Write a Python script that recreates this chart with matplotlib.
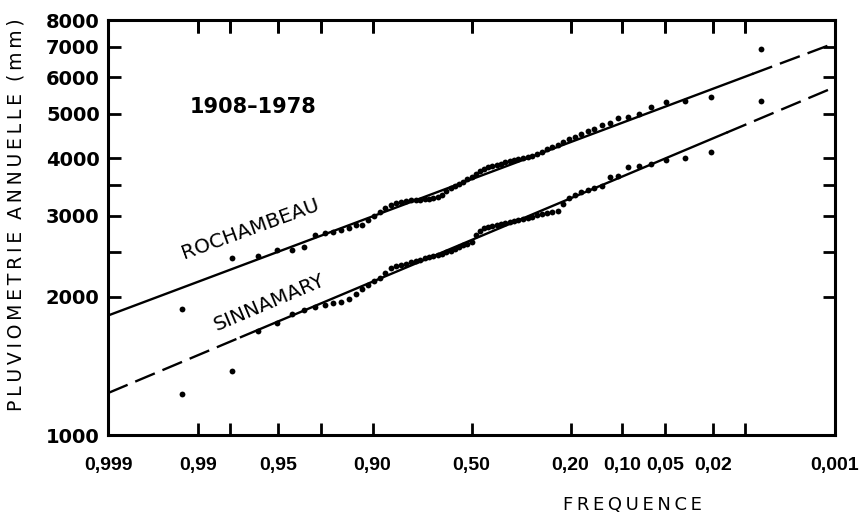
import numpy as np
import matplotlib
matplotlib.use("Agg")
from matplotlib import pyplot as plt
from matplotlib.markers import TICKDOWN
from statistics import NormalDist

"""
Pluviometrie annuelle 1908-1978, Rochambeau et Sinnamary,
report sur papier gausso-logarithmique
"""

# frequence de depassement des 71 annees classees
freq = [0.993, 0.979, 0.965, 0.951, 0.937, 0.923, 0.908, 0.894, 0.880, 0.866,
        0.852, 0.838, 0.824, 0.810, 0.796, 0.782, 0.768, 0.754, 0.739, 0.725,
        0.711, 0.697, 0.683, 0.669, 0.655, 0.641, 0.627, 0.613, 0.599, 0.585,
        0.570, 0.556, 0.542, 0.528, 0.514, 0.500, 0.486, 0.472, 0.458, 0.444,
        0.430, 0.415, 0.401, 0.387, 0.373, 0.359, 0.345, 0.331, 0.317, 0.303,
        0.289, 0.275, 0.261, 0.246, 0.232, 0.218, 0.204, 0.190, 0.176, 0.162,
        0.148, 0.134, 0.120, 0.106, 0.092, 0.077, 0.063, 0.049, 0.035, 0.021,
        0.007]

# pluies annuelles classees (mm)
rochambeau = [1880, 2430, 2450, 2530, 2530, 2560, 2720, 2750, 2770, 2790,
              2820, 2860, 2860, 2940, 3000, 3060, 3120, 3170, 3200, 3210,
              3230, 3250, 3250, 3250, 3260, 3260, 3280, 3300, 3330, 3400,
              3450, 3480, 3520, 3550, 3610, 3640, 3700, 3750, 3790, 3830,
              3850, 3870, 3890, 3930, 3950, 3970, 3990, 4010, 4030, 4050,
              4090, 4130, 4190, 4230, 4280, 4340, 4410, 4450, 4520, 4590,
              4630, 4730, 4780, 4900, 4920, 5000, 5170, 5300, 5330, 5440,
              6920]

sinnamary = [1230, 1380, 1680, 1750, 1830, 1870, 1900, 1920, 1940, 1950,
             1980, 2030, 2080, 2120, 2160, 2200, 2250, 2310, 2330, 2340,
             2360, 2380, 2390, 2400, 2430, 2440, 2450, 2460, 2480, 2500,
             2510, 2540, 2560, 2590, 2600, 2630, 2720, 2780, 2820, 2840,
             2850, 2860, 2880, 2890, 2910, 2920, 2940, 2950, 2970, 2980,
             3010, 3030, 3040, 3060, 3070, 3180, 3280, 3330, 3380, 3410,
             3450, 3480, 3640, 3660, 3830, 3850, 3890, 3970, 4010, 4130,
             5330]

# droites d'ajustement : valeurs aux frequences extremes
line_freq = [0.999, 0.001]
roch_line = [1820, 7130]
sinn_line = [1234, 5720]
# partie en trait plein de chaque droite (le reste en tirets)
roch_solid = [0.999, 0.0085]
sinn_solid = [0.975, 0.015]

tick_freq = [0.99, 0.98, 0.95, 0.90, 0.80, 0.50, 0.20, 0.10, 0.05, 0.02, 0.01]
label_freq = [0.999, 0.99, 0.95, 0.80, 0.50, 0.20, 0.10, 0.05, 0.02, 0.001]
label_text = ['0,999', '0,99', '0,95', '0,90', '0,50', '0,20', '0,10',
              '0,05', '0,02', '0,001']
y_major = [1000, 2000, 3000, 4000, 5000, 6000, 7000, 8000]
y_minor = [2500, 3500]

THIN = '\u2009'


def spaced(text):
    """lettres espacees comme sur l'original"""
    return '  '.join(THIN.join(w) for w in text.split(' '))


def gauss(f):
    """variable reduite de Gauss pour une frequence de depassement"""
    nd = NormalDist()
    return np.array([nd.inv_cdf(1 - v) for v in np.atleast_1d(f)])


def draw_line(ax, values, solid):
    """droite d'ajustement, trait plein entre les bornes, tirets ailleurs"""
    zl = gauss(line_freq)
    lv = np.log10(values)
    z0, z1 = gauss(solid)
    pieces = [(zl[0], z0, '--'), (z0, z1, '-'), (z1, zl[1], '--')]
    for a, b, ls in pieces:
        if b - a < 1e-6:
            continue
        zz = np.array([a, b])
        yy = 10 ** np.interp(zz, zl, lv)
        if ls == '--':
            ax.plot(zz, yy, color='black', lw=1.7, dashes=(9, 3.5),
                    solid_capstyle='butt')
        else:
            ax.plot(zz, yy, color='black', lw=1.7)


def main():
    fig = plt.figure(figsize=(8.67, 5.15), dpi=100)
    ax = fig.add_axes([0.1246, 0.1553, 0.8385, 0.8058])

    ax.plot(gauss(freq), rochambeau, 'o', color='black', ms=4.2, mew=0)
    ax.plot(gauss(freq), sinnamary, 'o', color='black', ms=4.2, mew=0)
    draw_line(ax, roch_line, roch_solid)
    draw_line(ax, sinn_line, sinn_solid)

    xl = gauss(line_freq)
    ax.set_xlim(xl[0], xl[1])
    ax.set_yscale('log')
    ax.set_ylim(1000, 8000)

    ax.xaxis.remove_overlapping_locs = False
    ax.set_xticks(gauss(label_freq))
    ax.set_xticklabels(label_text, fontfamily='Liberation Sans',
                       fontweight='bold', fontsize=14)
    ax.set_xticks(gauss(tick_freq), minor=True)
    ax.set_yticks(y_major)
    ax.set_yticklabels([str(v) for v in y_major], fontweight='bold',
                       fontsize=14)
    ax.set_yticks(y_minor, minor=True)
    ax.yaxis.set_minor_formatter(plt.NullFormatter())

    ax.tick_params(axis='x', which='major', length=0, pad=16)
    ax.tick_params(axis='x', which='minor', direction='in', length=9,
                   width=2, top=True, bottom=True)
    ax.tick_params(axis='y', which='both', direction='in', length=9,
                   width=2, left=True, right=True, pad=6)
    for sp in ax.spines.values():
        sp.set_linewidth(2.2)

    # graduations du bord superieur (repere sur la limite haute de l'axe)
    ax.plot(gauss(tick_freq), [y_major[-1]] * len(tick_freq), ls='none',
            marker=TICKDOWN, ms=9, mew=2, color='black', clip_on=False,
            zorder=6)

    ax.text(0.199, 0.79, '1908–1978', transform=ax.transAxes,
            ha='center', va='center', fontsize=15, fontweight='bold')
    ax.text(0.196, 0.497, 'ROCHAMBEAU', transform=ax.transAxes,
            ha='center', va='center', fontsize=14.5, rotation=20)
    ax.text(0.222, 0.32, 'SINNAMARY', transform=ax.transAxes,
            ha='center', va='center', fontsize=14.5, rotation=23)

    fig.text(16 / 867, 1 - 215 / 515, spaced('PLUVIOMETRIE ANNUELLE (mm)'),
             rotation=90, ha='center', va='center', fontsize=13.5)
    fig.text(632 / 867, 1 - 505 / 515, spaced('FREQUENCE'), ha='center',
             va='center', fontsize=13)

    fig.savefig('out.png', dpi=100)


if __name__ == '__main__':
    main()
